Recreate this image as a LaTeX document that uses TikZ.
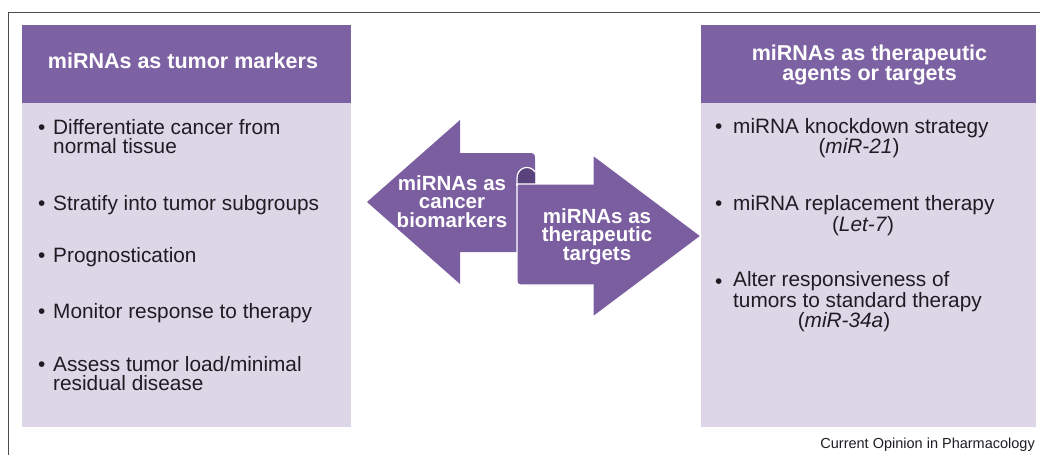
\documentclass[tikz,border=0pt]{standalone}
\usepackage{fontspec}
\setmainfont{Liberation Sans}
\definecolor{headpurple}{RGB}{125,98,163}
\definecolor{bodylilac}{RGB}{220,214,231}
\definecolor{arrowpurple}{RGB}{122,94,160}
\definecolor{foldpurple}{RGB}{90,66,124}
\definecolor{inkgray}{RGB}{30,28,34}

\begin{document}
\begin{tikzpicture}[x=1pt,y=-1pt]
\tikzstyle{every node}=[inner sep=0pt,text=inkgray,font=\fontsize{20.8}{19}\selectfont]
\tikzstyle{headtxt}=[text=white,align=center,font=\fontsize{21.5}{17.5}\selectfont\bfseries]
\tikzstyle{arrowtxt}=[text=white,align=center,font=\fontsize{20.5}{18.5}\selectfont\bfseries]
\tikzstyle{item}=[anchor=base west,align=left]
\tikzstyle{dot}=[anchor=base west]
\tikzstyle{gene}=[anchor=base]
\useasboundingbox (0,0) rectangle (1040,455);
\draw[gray!60!black,line width=1pt](8.5,455)--(8.5,12)--(1040,12);

% left panel
\fill[bodylilac](22,103)rectangle(351,427);
\fill[headpurple](22,25)rectangle(351,103);
\node[headtxt,anchor=base](lhead) at (183,68){miRNAs as tumor markers};
\node[dot](ld1) at (38,134){•};
\node[item](li1) at (53,153){Differentiate cancer from\\normal tissue};
\node[dot](ld2) at (38,210){•};
\node[item](li2) at (53,210){Stratify into tumor subgroups};
\node[dot](ld3) at (38,262){•};
\node[item](li3) at (53,262){Prognostication};
\node[dot](ld4) at (38,318){•};
\node[item](li4) at (53,318){Monitor response to therapy};
\node[dot](ld5) at (38,371){•};
\node[item](li5) at (53,390){Assess tumor load/minimal\\residual disease};

% right panel
\fill[bodylilac](701,103)rectangle(1036,427);
\fill[headpurple](701,25)rectangle(1036,103);
\node[headtxt,anchor=base](rhead) at (869.5,80){miRNAs as therapeutic\\agents or targets};
\node[dot](rd1) at (715,133){•};
\node[item](ri1) at (733,133){miRNA knockdown strategy};
\node[gene](rg1) at (859,153){(\textit{miR-21})};
\node[dot](rd2) at (715,210){•};
\node[item](ri2) at (733,210){miRNA replacement therapy};
\node[gene](rg2) at (863,231){(\textit{Let-7})};
\node[dot](rd3) at (715,288){•};
\node[item](ri3) at (733,307){Alter responsiveness of\\tumors to standard therapy};
\node[gene](rg3) at (844,327){(\textit{miR-34a})};

% the two arrows
\fill[arrowpurple](367,202)--(460,120)--(460,153)--(527,153)..controls(535,153)..(535,161)
  --(535,252)--(460,252)--(460,284)--cycle;
\fill[foldpurple](517,186)--(517,178)..controls(517,167)and(530,164)..(535,172)--(535,186)--cycle;
\filldraw[fill=arrowpurple,draw=white,line width=1.2pt](517,184)--(593,184)--(593,155)--(701,236)
  --(593,317)--(593,285)--(524,285)..controls(517,285)..(517,278)--cycle;
\draw[white,line width=1.2pt](517,186)--(517,178)..controls(517,167)and(530,164)..(535,172);
\node[arrowtxt,anchor=base](ltxt) at (452,227){miRNAs as\\cancer\\biomarkers};
\node[arrowtxt,anchor=base](rtxt) at (597,260){miRNAs as\\therapeutic\\targets};

\node[anchor=base east,font=\fontsize{14.5}{17}\selectfont](src) at (1035,448){Current Opinion in Pharmacology};
\end{tikzpicture}
\end{document}
